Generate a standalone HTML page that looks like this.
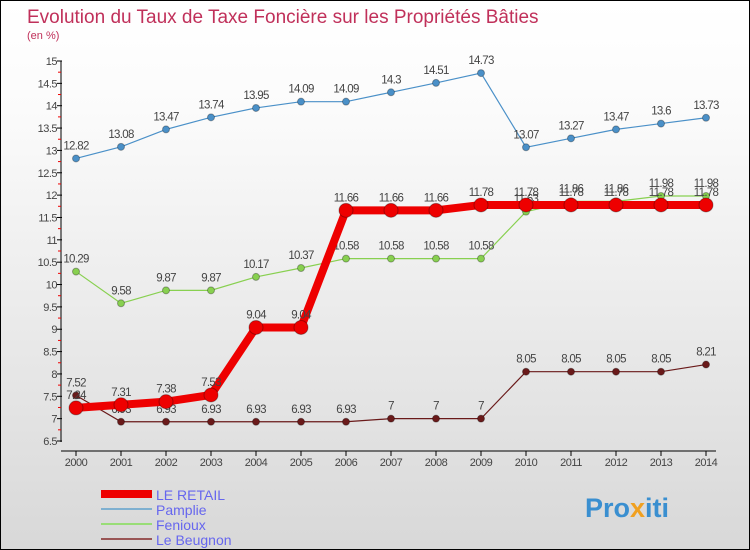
<!DOCTYPE html>
<html><head><meta charset="utf-8"><style>
body{margin:0}
#c{position:relative;width:748px;height:548px;border:1px solid #000;background:linear-gradient(#fff,#fbfbfb 20%,#d8d8d8);font-family:"Liberation Sans",sans-serif;overflow:hidden}
</style></head><body>
<div id="c">
<svg id="s" width="748" height="548" xmlns="http://www.w3.org/2000/svg">
<text x="26" y="22" font-size="19" fill="#c0305a">Evolution du Taux de Taxe Foncière sur les Propriétés Bâties</text>
<text x="26" y="38" font-size="11" fill="#c0305a">(en %)</text>
<g id="g"></g>
<text x="584" y="516" font-size="27" font-weight="bold" fill="#3a8fd0">Pro<tspan fill="#f0a020">x</tspan>iti</text>
</svg></div>
<script>
const years=[2000,2001,2002,2003,2004,2005,2006,2007,2008,2009,2010,2011,2012,2013,2014];
const yTicks=[6.5,7,7.5,8,8.5,9,9.5,10,10.5,11,11.5,12,12.5,13,13.5,14,14.5,15];
const retail=[7.24,7.31,7.38,7.53,9.04,9.04,11.66,11.66,11.66,11.78,11.78,11.78,11.78,11.78,11.78];
const pamplie=[12.82,13.08,13.47,13.74,13.95,14.09,14.09,14.3,14.51,14.73,13.07,13.27,13.47,13.6,13.73];
const fenioux=[10.29,9.58,9.87,9.87,10.17,10.37,10.58,10.58,10.58,10.58,11.63,11.86,11.86,11.98,11.98];
const beugnon=[7.52,6.93,6.93,6.93,6.93,6.93,6.93,7,7,7,8.05,8.05,8.05,8.05,8.21];
const NS='http://www.w3.org/2000/svg',g=document.getElementById('g');
const X=i=>75+i*45, Y=v=>60+(15-v)*380/8.5;
function el(t,a){const e=document.createElementNS(NS,t);for(const k in a)e.setAttribute(k,a[k]);g.appendChild(e);return e;}
let ax=el('line',{x1:60,y1:60,x2:60,y2:441,stroke:'#000'});


let xa=el('line',{x1:60,y1:450,x2:715,y2:450,stroke:'#000'});


yTicks.forEach((v,i)=>{
 el('line',{x1:56,y1:Y(v),x2:61,y2:Y(v),stroke:'#000'});
 if(i<yTicks.length-1)el('line',{x1:57,y1:Y(v+0.25),x2:60,y2:Y(v+0.25),stroke:'#e00'});
 const t=el('text',{x:56,y:Y(v)+4,'font-size':11,fill:'#444','text-anchor':'end','letter-spacing':'-0.5'});t.textContent=v;
 
 
});
years.forEach((y,i)=>{
 el('line',{x1:X(i),y1:450,x2:X(i),y2:455,stroke:'#000'});
 const t=el('text',{x:X(i),y:465,'font-size':11,fill:'#444','text-anchor':'middle','letter-spacing':'-0.5'});t.textContent=y;
 
 
});
function series(d,col,w,r,name){
 const p=el('polyline',{points:d.map((v,i)=>X(i)+','+Y(v)).join(' '),fill:'none',stroke:col,'stroke-width':w});
 
 
 d.forEach((v,i)=>{
  const c=el('circle',{cx:X(i),cy:Y(v),r:r,fill:col,stroke:'rgba(0,0,0,0.3)'});
  
  
  const t=el('text',{x:X(i),y:Y(v)-9,'font-size':11.5,fill:'#444','text-anchor':'middle','letter-spacing':'-0.7'});t.textContent=v;
  
  
 });
}
series(pamplie,'#4a90c8',1.2,3.5,'pamplie');
series(fenioux,'#88d050',1.2,3.5,'fenioux');
series(beugnon,'#6a1a1a',1.2,3.5,'le-beugnon');
series(retail,'#ee0000',8,7,'le-retail');
const names=['LE RETAIL','Pamplie','Fenioux','Le Beugnon'],cols=['#ee0000','#7fb0d0','#99dd77','#995555'],ws=[8,2,2,2];
names.forEach((n,i)=>{
 const yy=493+i*15;
 const l=el('line',{x1:100,y1:yy,x2:151,y2:yy,stroke:cols[i],'stroke-width':ws[i]});
 
 
 const t=el('text',{x:155,y:yy+6,'font-size':14,fill:'#6666ee'});t.textContent=n;
 
 
});
</script>
</body></html>
